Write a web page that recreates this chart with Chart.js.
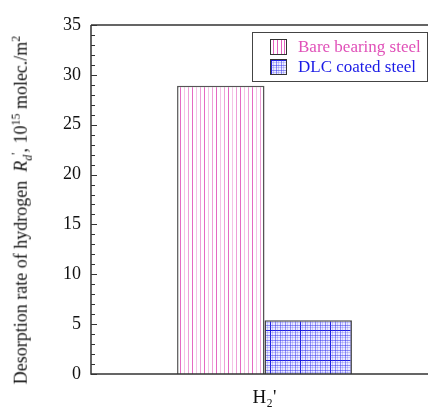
<!DOCTYPE html>
<html><head><meta charset="utf-8">
<script src="https://cdn.jsdelivr.net/npm/chart.js@4"></script>
<style>
html,body{margin:0;padding:0;background:#fff;overflow:hidden;width:428px;height:409px;}
#wrap{position:absolute;left:0;top:0;width:448px;height:409px;}
#ytitle{position:absolute;left:22px;top:210px;transform:translate(-50%,-50%) rotate(-90deg);white-space:nowrap;font-family:"Liberation Serif",serif;font-size:18px;color:#111;}
#ytitle sub,#ytitle sup{font-size:12px;}
#legend{position:absolute;left:252px;top:32px;width:174px;height:48px;border:1.5px solid #444;background:#fff;font-family:"Liberation Serif",serif;font-size:17px;}
.item{position:absolute;left:17px;height:17px;display:flex;align-items:center;white-space:nowrap;}
.item canvas{border:1px solid #333;width:15px;height:14px;margin-right:11px;}
</style></head>
<body>
<div id="wrap"><canvas id="c" width="448" height="409"></canvas></div>
<div id="ytitle">Desorption rate of hydrogen&nbsp; <i>R</i><sub><i>d</i></sub><sup>'</sup>, 10<sup>15</sup> molec./m<sup>2</sup></div>
<div id="legend">
 <div class="item" style="top:5px;color:#e050b8"><canvas id="s1" width="15" height="14"></canvas>Bare bearing steel</div>
 <div class="item" style="top:25px;color:#1a1ae6"><canvas id="s2" width="15" height="14"></canvas>DLC coated steel</div>
</div>
<script>
const categories = ["H\u2082'"];
const seriesNames = ["Bare bearing steel", "DLC coated steel"];
const bareValues = [28.9];
const dlcValues = [5.4];
const yTicks = [0,5,10,15,20,25,30,35];

function makeVertPattern(step){
  const p=document.createElement('canvas');p.width=step*3;p.height=4;
  const g=p.getContext('2d');g.fillStyle='#fff';g.fillRect(0,0,step*3,4);
  g.fillStyle='rgba(224,80,184,0.85)';g.fillRect(0,0,1,4);
  g.fillStyle='rgba(224,80,184,0.35)';g.fillRect(step,0,1,4);
  g.fillStyle='rgba(224,80,184,0.55)';g.fillRect(step*2,0,1,4);
  return p;
}
function makeGridPattern(){
  const n=30;const p=document.createElement('canvas');p.width=n;p.height=n;
  const g=p.getContext('2d');g.fillStyle='#ececff';g.fillRect(0,0,n,n);
  for(let i=0;i<n;i+=5){
    g.fillStyle=i===0?'rgba(20,20,220,0.95)':'rgba(50,50,240,0.5)';
    g.fillRect(i,0,1,n);g.fillRect(0,i,n,1);
  }
  for(let i=2;i<n;i+=5){g.fillStyle='rgba(80,80,240,0.25)';g.fillRect(i,0,1,n);g.fillRect(0,i,n,1);}
  return p;
}
const ctx=document.getElementById('c').getContext('2d');
const pat1=ctx.createPattern(makeVertPattern(4),'repeat');
const pat2=ctx.createPattern(makeGridPattern(),'repeat');
(function(){
  const c1=document.getElementById('s1').getContext('2d');c1.fillStyle='#fff';c1.fillRect(0,0,15,14);
  c1.fillStyle='rgba(224,80,184,0.9)';[2,6,10,13].forEach(x=>c1.fillRect(x,0,1,14));
  const c2=document.getElementById('s2').getContext('2d');c2.fillStyle=c2.createPattern(makeGridPattern(),'repeat');c2.fillRect(0,0,15,14);
})();

const framePlugin={id:'frame',afterDraw(chart){
  const {ctx,chartArea:a,scales:{y}}=chart;
  ctx.save();ctx.strokeStyle='#333';ctx.lineWidth=1.5;
  ctx.beginPath();ctx.moveTo(a.left,a.top);ctx.lineTo(a.right,a.top);
  ctx.moveTo(a.left,a.top);ctx.lineTo(a.left,a.bottom);ctx.lineTo(a.right,a.bottom);ctx.stroke();
  ctx.lineWidth=1;
  for(let v=0;v<=35;v++){const py=Math.round(y.getPixelForValue(v))+0.5;const len=v%5===0?6:4;
    ctx.beginPath();ctx.moveTo(a.left,py);ctx.lineTo(a.left+len,py);ctx.stroke();}
  ctx.restore();
}};

new Chart(ctx,{type:'bar',
 data:{labels:categories,datasets:[
  {label:seriesNames[0],data:bareValues,backgroundColor:pat1,borderColor:'#555',borderWidth:1.5,barPercentage:1,categoryPercentage:0.504},
  {label:seriesNames[1],data:dlcValues,backgroundColor:pat2,borderColor:'#444',borderWidth:1.5,barPercentage:1,categoryPercentage:0.504}]},
 options:{responsive:false,animation:false,
  layout:{padding:{left:0,top:25,right:10,bottom:0}},
  plugins:{legend:{display:false},tooltip:{enabled:false}},
  scales:{
   x:{grid:{display:false,drawTicks:false},border:{display:false},
      ticks:{color:'#111',font:{family:'Liberation Serif',size:19},padding:13},
      afterFit(s){s.height=35;}},
   y:{min:0,max:35,grid:{display:false,drawTicks:false},border:{display:false},
      afterBuildTicks(s){s.ticks=yTicks.map(v=>({value:v}));},
      ticks:{color:'#111',font:{family:'Liberation Serif',size:18},padding:10},
      afterFit(s){s.width=91;}}
  }},
 plugins:[framePlugin]});
</script>
</body></html>
